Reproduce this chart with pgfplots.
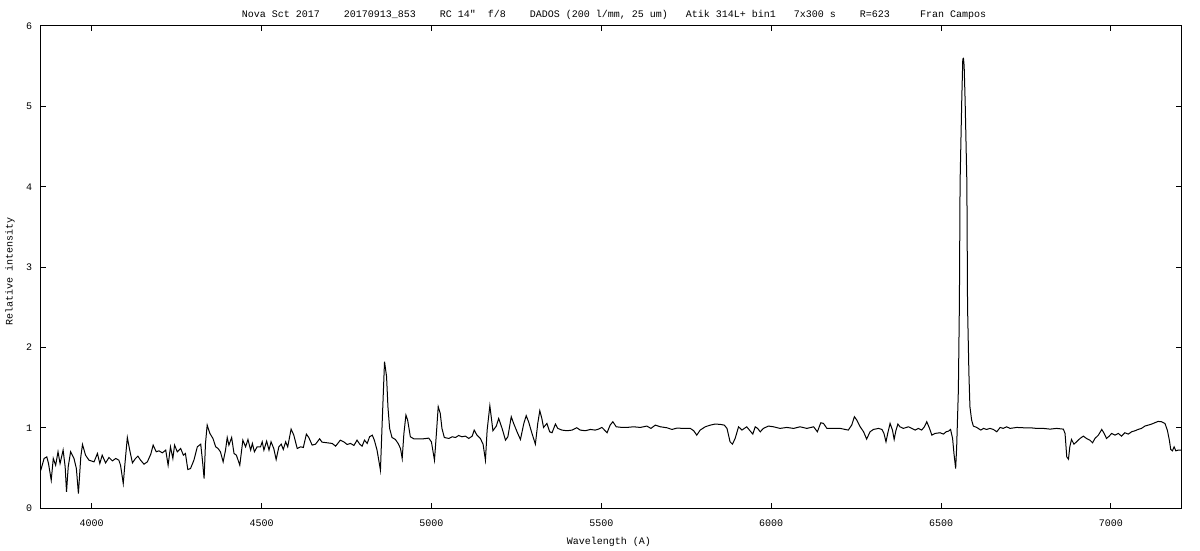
\documentclass[border=0pt]{standalone}
\usepackage{fontspec}
\setmonofont{Liberation Mono}
\renewcommand{\familydefault}{\ttdefault}
\usepackage{pgfplots}
\usepackage{pgfplotstable}
\pgfplotsset{compat=1.18}
\pgfplotstableread{
lam I
3850 0.470
3860 0.620
3868 0.640
3873 0.557
3881 0.349
3887 0.620
3894 0.536
3901 0.703
3907 0.557
3916 0.724
3922 0.516
3926 0.204
3931 0.516
3938 0.703
3948 0.620
3955 0.495
3961 0.183
3968 0.640
3973 0.794
3982 0.661
3992 0.599
4007 0.578
4017 0.682
4024 0.557
4031 0.661
4041 0.565
4051 0.632
4061 0.590
4071 0.620
4080 0.599
4085 0.536
4093 0.308
4098 0.557
4105 0.881
4112 0.724
4120 0.565
4129 0.620
4136 0.649
4144 0.599
4154 0.549
4164 0.578
4174 0.674
4181 0.786
4190 0.703
4198 0.715
4208 0.690
4218 0.724
4225 0.536
4232 0.765
4239 0.620
4244 0.786
4252 0.703
4262 0.744
4270 0.661
4276 0.682
4283 0.482
4291 0.495
4301 0.599
4311 0.765
4321 0.798
4326 0.599
4331 0.370
4335 0.807
4340 1.035
4348 0.931
4357 0.869
4365 0.765
4372 0.744
4379 0.703
4387 0.578
4394 0.724
4399 0.881
4404 0.786
4412 0.881
4419 0.682
4426 0.661
4436 0.536
4445 0.848
4453 0.765
4460 0.856
4468 0.724
4473 0.807
4479 0.703
4487 0.765
4497 0.765
4502 0.827
4507 0.724
4515 0.836
4522 0.724
4528 0.827
4536 0.744
4543 0.607
4551 0.765
4558 0.798
4564 0.732
4571 0.827
4577 0.765
4587 0.985
4595 0.910
4605 0.744
4615 0.765
4623 0.757
4632 0.923
4639 0.881
4649 0.786
4659 0.798
4671 0.865
4678 0.823
4693 0.815
4708 0.807
4718 0.773
4732 0.848
4742 0.827
4752 0.794
4762 0.807
4772 0.782
4781 0.848
4789 0.798
4796 0.773
4803 0.848
4811 0.807
4818 0.890
4826 0.910
4832 0.848
4840 0.723
4850 0.474
4855 1.056
4862 1.825
4868 1.638
4872 1.264
4877 0.994
4884 0.881
4894 0.856
4902 0.807
4909 0.744
4914 0.619
4919 0.931
4925 1.160
4930 1.098
4938 0.890
4948 0.865
4963 0.865
4977 0.865
4992 0.873
5000 0.827
5009 0.599
5014 0.890
5020 1.264
5026 1.181
5031 0.994
5038 0.881
5051 0.869
5061 0.890
5071 0.881
5080 0.906
5090 0.890
5100 0.898
5110 0.869
5120 0.898
5126 0.973
5134 0.910
5144 0.869
5152 0.798
5159 0.599
5164 0.973
5172 1.276
5176 1.139
5181 0.965
5191 1.023
5198 1.118
5208 0.994
5218 0.848
5225 0.890
5235 1.139
5242 1.056
5252 0.952
5262 0.856
5272 1.056
5279 1.152
5286 1.077
5296 0.931
5306 0.798
5313 1.056
5319 1.214
5325 1.118
5330 1.006
5340 1.056
5348 0.952
5355 0.940
5365 1.048
5372 0.994
5384 0.973
5399 0.965
5414 0.973
5428 1.002
5438 0.973
5453 0.965
5468 0.981
5482 0.973
5492 0.985
5502 1.006
5517 0.940
5526 1.035
5534 1.077
5544 1.014
5561 1.006
5575 1.006
5595 1.014
5615 1.006
5634 1.023
5646 0.994
5659 1.035
5674 1.014
5693 1.002
5708 0.981
5723 0.998
5742 0.994
5762 0.994
5772 0.965
5781 0.910
5791 0.973
5806 1.014
5821 1.035
5835 1.048
5850 1.044
5862 1.035
5870 0.994
5879 0.827
5886 0.798
5894 0.869
5904 1.014
5914 0.973
5921 0.994
5928 1.014
5936 0.973
5946 0.923
5953 1.014
5960 0.994
5968 0.952
5977 0.994
5992 1.023
6007 1.014
6026 0.994
6046 1.006
6066 0.994
6085 1.014
6105 0.994
6125 1.014
6136 0.952
6146 1.064
6154 1.056
6164 0.994
6183 0.994
6203 0.994
6218 0.981
6227 0.973
6237 1.035
6245 1.139
6252 1.098
6262 1.014
6272 0.952
6281 0.861
6291 0.952
6301 0.981
6316 0.994
6326 0.981
6332 0.931
6338 0.827
6343 0.931
6350 1.056
6357 0.973
6362 0.857
6367 0.965
6373 1.048
6379 1.014
6389 0.994
6404 1.014
6414 0.994
6424 0.973
6433 0.994
6443 0.973
6451 1.014
6458 1.077
6465 1.006
6473 0.910
6482 0.931
6497 0.940
6507 0.923
6515 0.952
6522 0.960
6528 0.981
6534 0.869
6538 0.682
6543 0.495
6546 0.765
6551 1.472
6554 2.553
6556 4.050
6561 5.089
6564 5.588
6566 5.596
6568 5.505
6571 5.048
6576 4.050
6578 2.511
6582 1.680
6585 1.264
6590 1.098
6595 1.023
6605 1.006
6617 0.973
6625 0.994
6634 0.981
6644 0.994
6654 0.981
6664 0.952
6674 1.006
6683 0.994
6693 1.014
6703 0.994
6723 1.006
6742 1.002
6762 1.002
6781 0.994
6801 0.994
6821 0.985
6840 0.994
6860 0.985
6865 0.931
6870 0.640
6875 0.611
6879 0.765
6884 0.857
6891 0.798
6899 0.827
6909 0.869
6919 0.898
6928 0.869
6938 0.848
6946 0.815
6953 0.869
6963 0.910
6973 0.981
6979 0.940
6987 0.869
6995 0.898
7002 0.931
7012 0.910
7022 0.931
7031 0.898
7041 0.940
7051 0.923
7061 0.952
7071 0.965
7080 0.981
7090 0.994
7100 1.023
7110 1.035
7120 1.048
7129 1.064
7139 1.081
7149 1.077
7159 1.056
7166 0.973
7172 0.848
7176 0.732
7181 0.715
7186 0.765
7191 0.715
7198 0.724
7207 0.724
}\spectrum
\begin{document}
\fontsize{10}{12}\selectfont
\begin{tikzpicture}[x=1pt,y=1pt]
\path[use as bounding box] (0,0) rectangle (1200,550);
\begin{axis}[
  at={(40.7pt,41.7pt)}, anchor=south west,
  scale only axis, width=1140.5pt, height=482.3pt,
  xmin=3850, xmax=7207, ymin=0, ymax=6,
  xtick={4000,4500,5000,5500,6000,6500,7000},
  ytick={0,1,2,3,4,5,6},
  minor tick num=0,
  tick align=inside, major tick length=5pt,
  axis line style={line width=1pt},
  every tick/.style={black, line width=1pt},
  /pgf/number format/assume math mode=true,
  /pgf/number format/set thousands separator={},
  tick label style={font=\fontsize{10}{12}\selectfont},
  xticklabel style={anchor=center, yshift=-15pt},
  yticklabel style={anchor=east, xshift=-5pt},
  xlabel={Wavelength (A)},
  ylabel={Relative intensity},
  every axis x label/.style={at={(axis description cs:0.5,0)}, anchor=center, yshift=-34pt, xshift=-2pt, font=\fontsize{10}{12}\selectfont},
  every axis y label/.style={at={(axis description cs:0,0.5)}, anchor=center, xshift=-30.7pt, yshift=-4pt, rotate=90, font=\fontsize{10}{12}\selectfont},
  title={Nova Sct 2017\ \ \ \ 20170913\_853\ \ \ \ RC 14"\ \ f/8\ \ \ \ DADOS (200 l/mm, 25 um)\ \ \ Atik 314L+ bin1\ \ \ 7x300 s\ \ \ \ R=623\ \ \ \ \ Fran Campos},
  every axis title/.style={at={(axis description cs:0.5,1)}, anchor=center, yshift=11.5pt, xshift=3pt, font=\fontsize{10}{12}\selectfont},
]
\addplot[black, line width=1pt, mark=none] table[x=lam, y=I] {\spectrum};
\end{axis}
\end{tikzpicture}
\end{document}
